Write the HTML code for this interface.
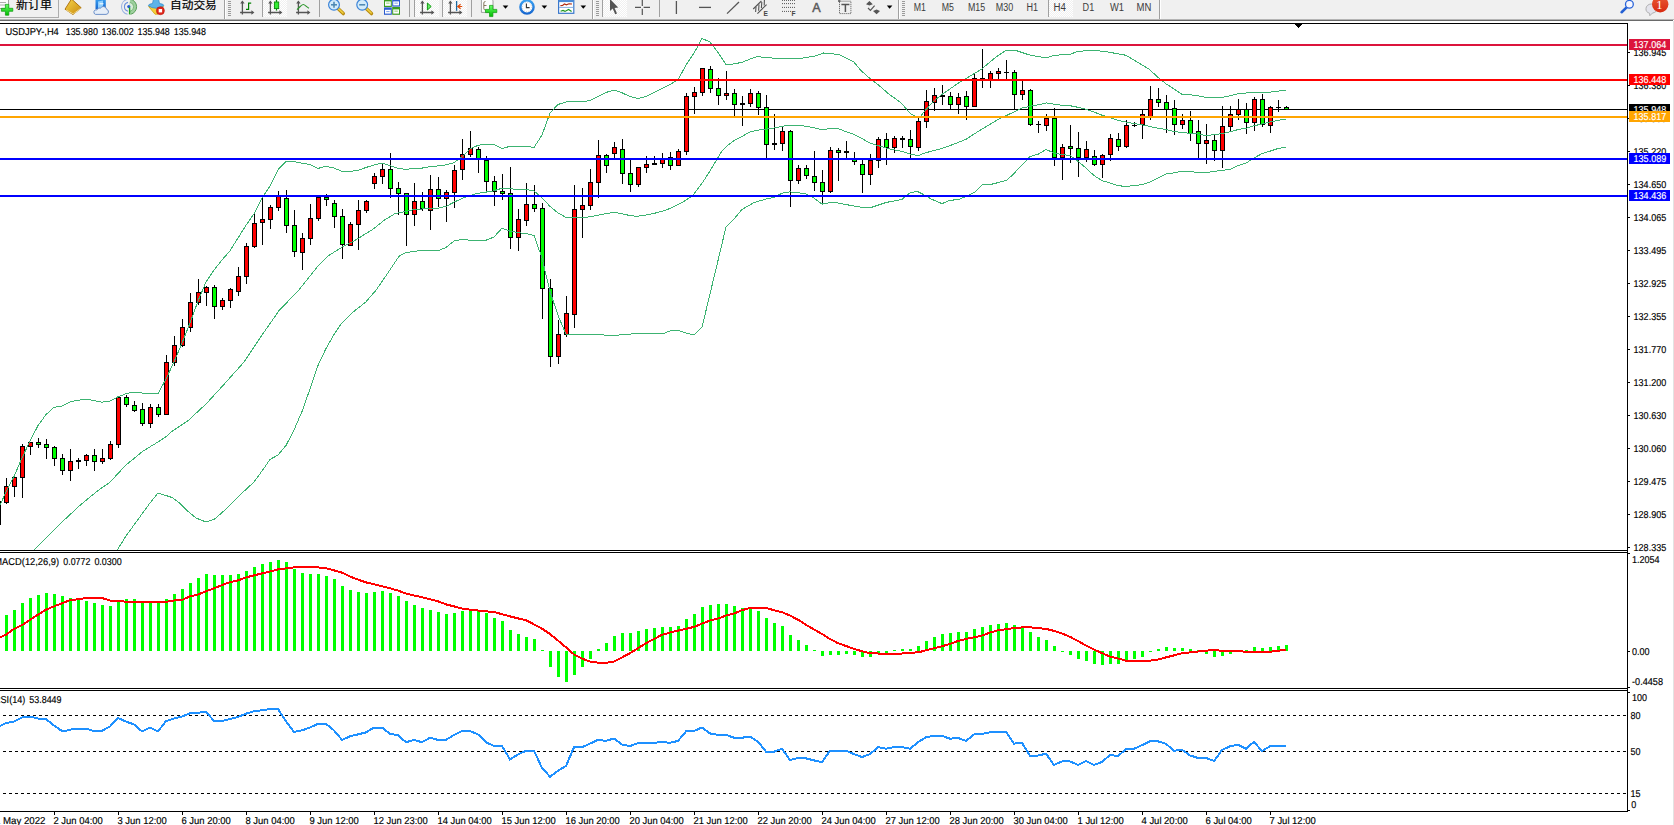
<!DOCTYPE html>
<html><head><meta charset="utf-8"><title>USDJPY-,H4</title>
<style>
html,body{margin:0;padding:0;background:#fff;}
body{width:1674px;height:825px;overflow:hidden;position:relative;font-family:"Liberation Sans", sans-serif;}
svg{display:block}
</style></head><body>
<svg id="toolbar" width="1674" height="23" viewBox="0 0 1674 23" style="position:absolute;left:0;top:0" font-family='"Liberation Sans","Noto Sans CJK SC",sans-serif'>
<defs>
<pattern id="chk" width="2" height="2" patternUnits="userSpaceOnUse"><rect width="2" height="2" fill="#f0f0f0"/><rect width="1" height="1" fill="#fff"/><rect x="1" y="1" width="1" height="1" fill="#fff"/></pattern>
<linearGradient id="gplus" x1="0" y1="0" x2="0" y2="1"><stop offset="0" stop-color="#6f6"/><stop offset="1" stop-color="#0b0"/></linearGradient>
<linearGradient id="gold" x1="0" y1="0" x2="1" y2="1"><stop offset="0" stop-color="#f7d64a"/><stop offset="1" stop-color="#c98a10"/></linearGradient>
<linearGradient id="blu" x1="0" y1="0" x2="0" y2="1"><stop offset="0" stop-color="#3aa0f0"/><stop offset="1" stop-color="#1868d0"/></linearGradient>
<linearGradient id="redg" x1="0" y1="0" x2="0" y2="1"><stop offset="0" stop-color="#ea5a34"/><stop offset="1" stop-color="#d82a10"/></linearGradient>
</defs>
<rect x="0" y="0" width="1674" height="19" fill="#f0f0f0"/>
<rect x="0" y="19" width="1674" height="1" fill="#b4b4b4"/>
<rect x="0" y="20" width="1673" height="1" fill="#6a6a6a"/>
<rect x="0" y="21" width="1674" height="2" fill="#fff"/>
<rect x="-2.5" y="-5.5" width="61" height="23" fill="#f0f0f0" stroke="#adadad"/>
<path d="M-3 -4H6L8.5 -1.5V8.5H-3Z" fill="#fdfdfd" stroke="#8a8a8a" stroke-width="0.8"/>
<path d="M-1 2.5H6M-1 5H6" stroke="#9a9a9a" stroke-width="0.8"/>
<path d="M5.4 4.4H8.8V8.3H12.8V11.3H8.8V15.2H5.4V11.3H1.4V8.3H5.4Z" fill="url(#gplus)" stroke="#0a9a0a" stroke-width="0.7"/>
<text x="16" y="8.9" font-size="12" fill="#000" stroke="#000" stroke-width="0.2">新订单</text>
<path d="M71.5 -1L81.2 7.8L73 14.6L65 9.2Z" fill="url(#gold)" stroke="#a86c08" stroke-width="0.9"/>
<path d="M66 9.8L73.2 14L80.6 8.4" stroke="#f7e39a" stroke-width="0.9" fill="none"/>
<path d="M95.5 -1H105.8V9H95.5Z" fill="url(#blu)"/>
<path d="M98 1.5L103 0.5V8H98Z" fill="#8fd0ff"/><path d="M99.5 3.8H103.5" stroke="#fff" stroke-width="1"/>
<path d="M95.5 14.4h10.5a2.6 2.6 0 0 0 .6-5.1a3.3 3.3 0 0 0-6.2-1a2.4 2.4 0 0 0-3.4 1.6a2.3 2.3 0 0 0-1.5 4.5z" fill="#e6eef8" stroke="#5f86c4" stroke-width="0.9"/>
<path d="M129 6.8L130.2 -0.8A7.7 7.7 0 0 1 130.6 14.3Z" fill="#9fd09f"/><path d="M129 6.8L130 2.4A4.5 4.5 0 0 1 130.2 11.2Z" fill="#d8ecd8"/>
<g fill="none"><path d="M130.2 -0.8A7.7 7.7 0 0 1 130.6 14.3" stroke="#5aa05a" stroke-width="1"/><path d="M127.6 14.3A7.7 7.7 0 0 1 127.8 -0.8" stroke="#9ab4e4" stroke-width="1.1"/><path d="M128 11.2A4.5 4.5 0 0 1 128 2.4" stroke="#6a90dc" stroke-width="1.1"/><path d="M130 2.4A4.5 4.5 0 0 1 130.2 11.2" stroke="#7ab87a" stroke-width="1"/></g>
<circle cx="128.8" cy="6.6" r="1.6" fill="#2a5fd0"/><path d="M129.6 7.4V14.4" stroke="#1ea01e" stroke-width="1.4" fill="none"/>
<path d="M148.6 6.5L163.4 6.5L157.8 14.2L155 14.2Z" fill="#f4d03a" stroke="#d0a010" stroke-width="0.8"/>
<path d="M153.5 -1Q156 -2 158.5 -1L159.5 3.5Q164 4 163.8 5.6Q160 8.4 156 8.2Q151 8.2 148.3 5.6Q148.6 4 152.5 3.5Z" fill="#5db4e8" stroke="#2e86c8" stroke-width="0.7"/>
<circle cx="160.4" cy="10.7" r="4" fill="#e0281c" stroke="#b8140c" stroke-width="0.6"/><rect x="158.7" y="9" width="3.4" height="3.4" fill="#fff"/>
<text x="170" y="9.2" font-size="11.7" fill="#000" stroke="#000" stroke-width="0.2">自动交易</text>
<rect x="224" y="0" width="1" height="19" fill="#a0a0a0"/><rect x="225" y="0" width="1" height="19" fill="#fff"/>
<rect x="228" y="1" width="3" height="1" fill="#9a9a9a"/>
<rect x="228" y="3" width="3" height="1" fill="#9a9a9a"/>
<rect x="228" y="5" width="3" height="1" fill="#9a9a9a"/>
<rect x="228" y="7" width="3" height="1" fill="#9a9a9a"/>
<rect x="228" y="9" width="3" height="1" fill="#9a9a9a"/>
<rect x="228" y="11" width="3" height="1" fill="#9a9a9a"/>
<rect x="228" y="13" width="3" height="1" fill="#9a9a9a"/>
<rect x="228" y="15" width="3" height="1" fill="#9a9a9a"/>
<path d="M242.4 1.5V14.5M240.1 12.5H252.4" stroke="#555" stroke-width="1.3" fill="none"/>
<path d="M240.20000000000002 3.6L242.4 0.6L244.6 3.6Z M251.4 10.3L254.4 12.5L251.4 14.7Z" fill="#555"/>
<path d="M248.6 2.6V10M248.6 3.2H251.2M246 9.4H248.6" stroke="#008000" stroke-width="1.2" fill="none"/>
<rect x="262" y="0" width="1" height="17" fill="#a0a0a0"/>
<rect x="263" y="0" width="24" height="17" fill="url(#chk)"/><rect x="262" y="0" width="1" height="17" fill="#a0a0a0"/>
<path d="M270.4 1.5V14.5M268.09999999999997 12.5H280.4" stroke="#555" stroke-width="1.3" fill="none"/>
<path d="M268.2 3.6L270.4 0.6L272.59999999999997 3.6Z M279.4 10.3L282.4 12.5L279.4 14.7Z" fill="#555"/>
<path d="M276.5 0V10.6" stroke="#0a8a0a" stroke-width="1.2"/><rect x="274.4" y="2" width="4.3" height="6.6" fill="#3e3" stroke="#0a8a0a" stroke-width="0.9"/>
<path d="M298.4 1.5V14.5M296.09999999999997 12.5H308.4" stroke="#555" stroke-width="1.3" fill="none"/>
<path d="M296.2 3.6L298.4 0.6L300.59999999999997 3.6Z M307.4 10.3L310.4 12.5L307.4 14.7Z" fill="#555"/>
<path d="M297 9.6C300 7 301.5 4.5 303.2 4.5C305 4.5 306.5 7.2 309 8.2" stroke="#2c962c" stroke-width="1.2" fill="none"/>
<rect x="319" y="0" width="1" height="17" fill="#a0a0a0"/>
<path d="M338 8.6L343.3 13.6" stroke="#b88a10" stroke-width="3.4" stroke-linecap="round"/><path d="M338.4 8.6L343 13" stroke="#f0d040" stroke-width="1.6" stroke-linecap="round"/>
<circle cx="334" cy="4.8" r="5.4" fill="#d4ecfa" stroke="#3c84d8" stroke-width="1.2"/>
<path d="M331 4.8H337" stroke="#4a86b0" stroke-width="1.5"/>
<path d="M334 1.8V7.8" stroke="#4a86b0" stroke-width="1.5"/>
<path d="M366.2 8.6L371.5 13.6" stroke="#b88a10" stroke-width="3.4" stroke-linecap="round"/><path d="M366.59999999999997 8.6L371.2 13" stroke="#f0d040" stroke-width="1.6" stroke-linecap="round"/>
<circle cx="362.2" cy="4.8" r="5.4" fill="#d4ecfa" stroke="#3c84d8" stroke-width="1.2"/>
<path d="M359.2 4.8H365.2" stroke="#4a86b0" stroke-width="1.5"/>
<rect x="384" y="-1" width="7.8" height="8" fill="#3c9c20"/>
<rect x="385" y="1.4" width="5.8" height="4.4" fill="#fff"/><rect x="386.2" y="2.6" width="3.3999999999999995" height="1.1" fill="#9ad27c"/>
<rect x="392.2" y="-1" width="7.8" height="7.6" fill="#2c5cd0"/>
<rect x="393.2" y="1.4" width="5.8" height="3.9999999999999996" fill="#fff"/><rect x="394.4" y="2.6" width="3.3999999999999995" height="1.1" fill="#8aa8ec"/>
<rect x="384" y="7.4" width="7.8" height="7.4" fill="#2c5cd0"/>
<rect x="385" y="9.8" width="5.8" height="3.8000000000000003" fill="#fff"/><rect x="386.2" y="11.0" width="3.3999999999999995" height="1.1" fill="#8aa8ec"/>
<rect x="392.2" y="7" width="7.8" height="7.8" fill="#3c9c20"/>
<rect x="393.2" y="9.4" width="5.8" height="4.199999999999999" fill="#fff"/><rect x="394.4" y="10.6" width="3.3999999999999995" height="1.1" fill="#9ad27c"/>
<rect x="409" y="0" width="1" height="17" fill="#a0a0a0"/>
<rect x="415" y="0" width="24" height="17" fill="url(#chk)"/><rect x="414" y="0" width="1" height="17" fill="#a0a0a0"/>
<path d="M422.4 1.5V14.5M420.09999999999997 12.5H432.4" stroke="#555" stroke-width="1.3" fill="none"/>
<path d="M420.2 3.6L422.4 0.6L424.59999999999997 3.6Z M431.4 10.3L434.4 12.5L431.4 14.7Z" fill="#555"/>
<path d="M427.4 3L431.2 6.5L427.4 10Z" fill="#6e6" stroke="#109a10" stroke-width="1"/>
<rect x="443" y="0" width="24" height="17" fill="url(#chk)"/><rect x="442" y="0" width="1" height="17" fill="#a0a0a0"/>
<path d="M450.4 1.5V14.5M448.09999999999997 12.5H460.4" stroke="#555" stroke-width="1.3" fill="none"/>
<path d="M448.2 3.6L450.4 0.6L452.59999999999997 3.6Z M459.4 10.3L462.4 12.5L459.4 14.7Z" fill="#555"/>
<path d="M456.6 1V10.8" stroke="#1c6aa0" stroke-width="1.3"/><path d="M457.6 6.5H462.2M460.6 4.3L457.8 6.5L460.6 8.7" stroke="#e04a08" stroke-width="1.2" fill="none"/>
<rect x="471" y="0" width="1" height="17" fill="#a0a0a0"/>
<path d="M481.4 -2H490.6L493 0.4V12.4H481.4Z" fill="#fcfcfc" stroke="#8a8a8a" stroke-width="0.8"/>
<path d="M485.5 1.5Q483.8 1.5 483.8 3V8.5Q483.8 10 485.5 10M484 5.5H486.5" stroke="#6a5a3a" stroke-width="0.8" fill="none"/>
<path d="M489.5 5.4H492.9V9.4H496.8V12.6H492.9V16.6H489.5V12.6H485.5V9.4H489.5Z" fill="url(#gplus)" stroke="#0a9a0a" stroke-width="0.7"/>
<polygon points="502.7,5.6 508.3,5.6 505.5,8.8" fill="#000"/>
<circle cx="527" cy="7" r="6.6" fill="#fdfdfd" stroke="url(#blu)" stroke-width="2.4"/><path d="M526.4 3.6V7.6H529.6" stroke="#333" stroke-width="1.1" fill="none"/>
<circle cx="527" cy="7" r="4.6" fill="none" stroke="#b0b0b0" stroke-width="0.7" stroke-dasharray="0.8 1.6"/>
<polygon points="541.6,5.6 547.1999999999999,5.6 544.4,8.8" fill="#000"/>
<rect x="558.6" y="-0.5" width="15.2" height="13.8" fill="#fff" stroke="#3a78cc" stroke-width="1.2"/><rect x="558.6" y="-0.5" width="15.2" height="2.6" fill="#4a8ad8"/><path d="M559 7.4H573.4" stroke="#7aa6e0" stroke-width="0.9"/>
<path d="M560.4 5.6L562.6 5.4L564.4 4L566.4 4.8L569 3.8L572 4" stroke="#b02a10" stroke-width="1.2" fill="none"/><path d="M560.6 11.2L563 10.4L565 11.4L568.6 9.4L571.6 11.4" stroke="#1e961e" stroke-width="1.2" fill="none"/>
<polygon points="580.5,5.6 586.0999999999999,5.6 583.3,8.8" fill="#000"/>
<rect x="592" y="0" width="1" height="19" fill="#a0a0a0"/><rect x="593" y="0" width="1" height="19" fill="#fff"/>
<rect x="596" y="1" width="3" height="1" fill="#9a9a9a"/>
<rect x="596" y="3" width="3" height="1" fill="#9a9a9a"/>
<rect x="596" y="5" width="3" height="1" fill="#9a9a9a"/>
<rect x="596" y="7" width="3" height="1" fill="#9a9a9a"/>
<rect x="596" y="9" width="3" height="1" fill="#9a9a9a"/>
<rect x="596" y="11" width="3" height="1" fill="#9a9a9a"/>
<rect x="596" y="13" width="3" height="1" fill="#9a9a9a"/>
<rect x="596" y="15" width="3" height="1" fill="#9a9a9a"/>
<rect x="603" y="0" width="24" height="17" fill="url(#chk)"/><rect x="602" y="0" width="1" height="17" fill="#a0a0a0"/>
<path d="M610 -1V11L612.7 8.6L615.2 14.2L617 13.4L614.6 7.9L618.2 7.6Z" fill="#555"/>
<path d="M635 7.4H641M643.6 7.4H650M642.3 0V6M642.3 8.8V15" stroke="#555" stroke-width="1.2" fill="none"/>
<rect x="659" y="0" width="1" height="17" fill="#a0a0a0"/>
<path d="M676.4 1V14" stroke="#555" stroke-width="1.3"/>
<path d="M699 7.4H711" stroke="#555" stroke-width="1.3"/>
<path d="M727 13.6L739 2" stroke="#555" stroke-width="1.3"/>
<path d="M753.2 9L761.4 1M757.4 13.6L766.6 4.6" stroke="#555" stroke-width="1.1" fill="none"/>
<path d="M756 7L755.6 12M759 4.4L758.6 10.8M761.8 2L761.4 8M764.4 0L764.2 5.6" stroke="#555" stroke-width="1.1" fill="none"/>
<text x="763.6" y="15.6" font-size="6.6" font-weight="bold" fill="#444">E</text>
<path d="M782 0.4H795" stroke="#555" stroke-width="1" stroke-dasharray="1 1"/>
<path d="M782 3.6H795" stroke="#555" stroke-width="1" stroke-dasharray="1 1"/>
<path d="M782 7.4H795" stroke="#555" stroke-width="1" stroke-dasharray="1 1"/>
<path d="M782 11.4H791" stroke="#555" stroke-width="1" stroke-dasharray="1 1"/>
<text x="791.6" y="15.6" font-size="6.6" font-weight="bold" fill="#444">F</text>
<text x="812.2" y="12" font-size="12.6" fill="#5a5a5a" stroke="#5a5a5a" stroke-width="0.5">A</text>
<rect x="839.5" y="1.2" width="11.4" height="12.4" fill="none" stroke="#555" stroke-width="1" stroke-dasharray="1 1"/><path d="M841.4 4.6H849.4M845.4 4.6V12" stroke="#555" stroke-width="1.5" fill="none"/><path d="M838 1H840.4" stroke="#444" stroke-width="1.4"/>
<path d="M866 4.2L869.4 1L872.8 4.2L869.4 5.6Z M873 11L876.6 14.2L880 11L876.6 9.6Z" fill="#555"/><path d="M868 8L870.4 10.4L874.6 5.6" stroke="#555" stroke-width="1.2" fill="none"/>
<polygon points="886.8000000000001,5.6 892.4,5.6 889.6,8.8" fill="#000"/>
<rect x="898" y="0" width="1" height="19" fill="#a0a0a0"/><rect x="899" y="0" width="1" height="19" fill="#fff"/>
<rect x="902" y="1" width="3" height="1" fill="#9a9a9a"/>
<rect x="902" y="3" width="3" height="1" fill="#9a9a9a"/>
<rect x="902" y="5" width="3" height="1" fill="#9a9a9a"/>
<rect x="902" y="7" width="3" height="1" fill="#9a9a9a"/>
<rect x="902" y="9" width="3" height="1" fill="#9a9a9a"/>
<rect x="902" y="11" width="3" height="1" fill="#9a9a9a"/>
<rect x="902" y="13" width="3" height="1" fill="#9a9a9a"/>
<rect x="902" y="15" width="3" height="1" fill="#9a9a9a"/>
<text x="913.8" y="10.9" font-size="10" fill="#3c3c3c" textLength="12.2" lengthAdjust="spacingAndGlyphs">M1</text>
<text x="941.8" y="10.9" font-size="10" fill="#3c3c3c" textLength="12.2" lengthAdjust="spacingAndGlyphs">M5</text>
<text x="967.9" y="10.9" font-size="10" fill="#3c3c3c" textLength="17.2" lengthAdjust="spacingAndGlyphs">M15</text>
<text x="995.8" y="10.9" font-size="10" fill="#3c3c3c" textLength="17.4" lengthAdjust="spacingAndGlyphs">M30</text>
<text x="1026.5" y="10.9" font-size="10" fill="#3c3c3c" textLength="11.6" lengthAdjust="spacingAndGlyphs">H1</text>
<rect x="1049" y="0" width="24" height="17" fill="url(#chk)"/><rect x="1048" y="0" width="1" height="17" fill="#a0a0a0"/>
<text x="1053.6" y="10.9" font-size="10" fill="#3c3c3c" textLength="12.4" lengthAdjust="spacingAndGlyphs">H4</text>
<text x="1082.6" y="10.9" font-size="10" fill="#3c3c3c" textLength="11.6" lengthAdjust="spacingAndGlyphs">D1</text>
<text x="1110" y="10.9" font-size="10" fill="#3c3c3c" textLength="14" lengthAdjust="spacingAndGlyphs">W1</text>
<text x="1136.6" y="10.9" font-size="10" fill="#3c3c3c" textLength="14.8" lengthAdjust="spacingAndGlyphs">MN</text>
<rect x="1159" y="0" width="1" height="19" fill="#a0a0a0"/><rect x="1160" y="0" width="1" height="19" fill="#fff"/>
<path d="M1626.6 7.4L1621.6 12.2" stroke="#2460d4" stroke-width="2.6" stroke-linecap="round"/><circle cx="1629.4" cy="4.3" r="3.9" fill="#f6f6ff" stroke="#2a64d8" stroke-width="1.3"/>
<path d="M1646 8.6a5.6 4.6 0 1 1 6.4 4.5l-2.6 2.6l-.2-2.4a5.6 4.6 0 0 1-3.6-4.7z" fill="#e4e4ec" stroke="#a8a8a8" stroke-width="0.9"/>
<circle cx="1660.2" cy="4.3" r="8.2" fill="url(#redg)"/>
<text x="1656.2" y="9.2" font-size="12.5" fill="#fff" font-family='"Liberation Serif",serif'>1</text>
</svg>
<svg id="chart" width="1674" height="825" viewBox="0 0 1674 825" shape-rendering="crispEdges" text-rendering="geometricPrecision" font-family='"Liberation Sans", sans-serif' style="position:absolute;left:0;top:0">
<rect x="0" y="23" width="1628" height="1" fill="#000"/>
<rect x="1627" y="23" width="1" height="789" fill="#000"/>
<rect x="0" y="550" width="1628" height="1" fill="#000"/>
<rect x="0" y="552" width="1628" height="1" fill="#000"/>
<rect x="0" y="688" width="1628" height="1" fill="#000"/>
<rect x="0" y="690" width="1628" height="1" fill="#000"/>
<rect x="0" y="811" width="1628" height="1" fill="#000"/>
<rect x="1673" y="21" width="1" height="804" fill="#e3e3e3"/>
<polygon points="1293.5,23 1303.5,23 1298.5,28.5" fill="#000"/>
<clipPath id="cm"><rect x="0" y="24" width="1627" height="526"/></clipPath>
<g clip-path="url(#cm)">
<rect x="0" y="109" width="1627" height="1" fill="#000"/>
<rect x="-2" y="497" width="1" height="28" fill="#000"/>
<rect x="-4" y="501" width="5" height="24" fill="#000"/>
<rect x="-3" y="502" width="3" height="22" fill="#f00"/>
<rect x="6" y="478" width="1" height="26" fill="#000"/>
<rect x="4" y="486" width="5" height="17" fill="#000"/>
<rect x="5" y="487" width="3" height="15" fill="#f00"/>
<rect x="14" y="474" width="1" height="23" fill="#000"/>
<rect x="12" y="477" width="5" height="10" fill="#000"/>
<rect x="13" y="478" width="3" height="8" fill="#f00"/>
<rect x="22" y="444" width="1" height="54" fill="#000"/>
<rect x="20" y="446" width="5" height="32" fill="#000"/>
<rect x="21" y="447" width="3" height="30" fill="#f00"/>
<rect x="30" y="442" width="1" height="13" fill="#000"/>
<rect x="28" y="442" width="5" height="5" fill="#000"/>
<rect x="29" y="443" width="3" height="3" fill="#f00"/>
<rect x="38" y="438" width="1" height="10" fill="#000"/>
<rect x="36" y="442" width="5" height="3" fill="#000"/>
<rect x="37" y="443" width="3" height="1" fill="#0f0"/>
<rect x="46" y="439" width="1" height="20" fill="#000"/>
<rect x="44" y="444" width="5" height="4" fill="#000"/>
<rect x="45" y="445" width="3" height="2" fill="#0f0"/>
<rect x="54" y="446" width="1" height="20" fill="#000"/>
<rect x="52" y="447" width="5" height="12" fill="#000"/>
<rect x="53" y="448" width="3" height="10" fill="#0f0"/>
<rect x="62" y="454" width="1" height="21" fill="#000"/>
<rect x="60" y="458" width="5" height="13" fill="#000"/>
<rect x="61" y="459" width="3" height="11" fill="#0f0"/>
<rect x="70" y="449" width="1" height="32" fill="#000"/>
<rect x="68" y="461" width="5" height="10" fill="#000"/>
<rect x="69" y="462" width="3" height="8" fill="#f00"/>
<rect x="78" y="458" width="1" height="11" fill="#000"/>
<rect x="76" y="460" width="5" height="2" fill="#000"/>
<rect x="86" y="454" width="1" height="12" fill="#000"/>
<rect x="84" y="455" width="5" height="6" fill="#000"/>
<rect x="85" y="456" width="3" height="4" fill="#f00"/>
<rect x="94" y="449" width="1" height="22" fill="#000"/>
<rect x="92" y="455" width="5" height="7" fill="#000"/>
<rect x="93" y="456" width="3" height="5" fill="#0f0"/>
<rect x="102" y="449" width="1" height="15" fill="#000"/>
<rect x="100" y="458" width="5" height="4" fill="#000"/>
<rect x="101" y="459" width="3" height="2" fill="#f00"/>
<rect x="110" y="441" width="1" height="19" fill="#000"/>
<rect x="108" y="444" width="5" height="15" fill="#000"/>
<rect x="109" y="445" width="3" height="13" fill="#f00"/>
<rect x="118" y="396" width="1" height="52" fill="#000"/>
<rect x="116" y="397" width="5" height="48" fill="#000"/>
<rect x="117" y="398" width="3" height="46" fill="#f00"/>
<rect x="126" y="395" width="1" height="12" fill="#000"/>
<rect x="124" y="397" width="5" height="8" fill="#000"/>
<rect x="125" y="398" width="3" height="6" fill="#0f0"/>
<rect x="134" y="401" width="1" height="11" fill="#000"/>
<rect x="132" y="405" width="5" height="6" fill="#000"/>
<rect x="133" y="406" width="3" height="4" fill="#0f0"/>
<rect x="142" y="403" width="1" height="23" fill="#000"/>
<rect x="140" y="409" width="5" height="15" fill="#000"/>
<rect x="141" y="410" width="3" height="13" fill="#0f0"/>
<rect x="150" y="404" width="1" height="24" fill="#000"/>
<rect x="148" y="407" width="5" height="17" fill="#000"/>
<rect x="149" y="408" width="3" height="15" fill="#f00"/>
<rect x="158" y="404" width="1" height="13" fill="#000"/>
<rect x="156" y="407" width="5" height="8" fill="#000"/>
<rect x="157" y="408" width="3" height="6" fill="#0f0"/>
<rect x="166" y="355" width="1" height="60" fill="#000"/>
<rect x="164" y="362" width="5" height="53" fill="#000"/>
<rect x="165" y="363" width="3" height="51" fill="#f00"/>
<rect x="174" y="336" width="1" height="30" fill="#000"/>
<rect x="172" y="345" width="5" height="18" fill="#000"/>
<rect x="173" y="346" width="3" height="16" fill="#f00"/>
<rect x="182" y="319" width="1" height="28" fill="#000"/>
<rect x="180" y="327" width="5" height="19" fill="#000"/>
<rect x="181" y="328" width="3" height="17" fill="#f00"/>
<rect x="190" y="293" width="1" height="39" fill="#000"/>
<rect x="188" y="302" width="5" height="26" fill="#000"/>
<rect x="189" y="303" width="3" height="24" fill="#f00"/>
<rect x="198" y="279" width="1" height="26" fill="#000"/>
<rect x="196" y="292" width="5" height="11" fill="#000"/>
<rect x="197" y="293" width="3" height="9" fill="#f00"/>
<rect x="206" y="286" width="1" height="20" fill="#000"/>
<rect x="204" y="287" width="5" height="6" fill="#000"/>
<rect x="205" y="288" width="3" height="4" fill="#f00"/>
<rect x="214" y="285" width="1" height="34" fill="#000"/>
<rect x="212" y="287" width="5" height="20" fill="#000"/>
<rect x="213" y="288" width="3" height="18" fill="#0f0"/>
<rect x="222" y="298" width="1" height="12" fill="#000"/>
<rect x="220" y="300" width="5" height="7" fill="#000"/>
<rect x="221" y="301" width="3" height="5" fill="#f00"/>
<rect x="230" y="288" width="1" height="20" fill="#000"/>
<rect x="228" y="289" width="5" height="12" fill="#000"/>
<rect x="229" y="290" width="3" height="10" fill="#f00"/>
<rect x="238" y="267" width="1" height="29" fill="#000"/>
<rect x="236" y="276" width="5" height="16" fill="#000"/>
<rect x="237" y="277" width="3" height="14" fill="#f00"/>
<rect x="246" y="243" width="1" height="41" fill="#000"/>
<rect x="244" y="246" width="5" height="31" fill="#000"/>
<rect x="245" y="247" width="3" height="29" fill="#f00"/>
<rect x="254" y="214" width="1" height="34" fill="#000"/>
<rect x="252" y="223" width="5" height="24" fill="#000"/>
<rect x="253" y="224" width="3" height="22" fill="#f00"/>
<rect x="262" y="198" width="1" height="47" fill="#000"/>
<rect x="260" y="219" width="5" height="4" fill="#000"/>
<rect x="261" y="220" width="3" height="2" fill="#f00"/>
<rect x="270" y="205" width="1" height="24" fill="#000"/>
<rect x="268" y="207" width="5" height="13" fill="#000"/>
<rect x="269" y="208" width="3" height="11" fill="#f00"/>
<rect x="278" y="191" width="1" height="20" fill="#000"/>
<rect x="276" y="196" width="5" height="12" fill="#000"/>
<rect x="277" y="197" width="3" height="10" fill="#f00"/>
<rect x="286" y="190" width="1" height="43" fill="#000"/>
<rect x="284" y="198" width="5" height="28" fill="#000"/>
<rect x="285" y="199" width="3" height="26" fill="#0f0"/>
<rect x="294" y="210" width="1" height="47" fill="#000"/>
<rect x="292" y="225" width="5" height="27" fill="#000"/>
<rect x="293" y="226" width="3" height="25" fill="#0f0"/>
<rect x="302" y="233" width="1" height="37" fill="#000"/>
<rect x="300" y="238" width="5" height="15" fill="#000"/>
<rect x="301" y="239" width="3" height="13" fill="#f00"/>
<rect x="310" y="204" width="1" height="41" fill="#000"/>
<rect x="308" y="218" width="5" height="21" fill="#000"/>
<rect x="309" y="219" width="3" height="19" fill="#f00"/>
<rect x="318" y="195" width="1" height="26" fill="#000"/>
<rect x="316" y="197" width="5" height="22" fill="#000"/>
<rect x="317" y="198" width="3" height="20" fill="#f00"/>
<rect x="326" y="194" width="1" height="12" fill="#000"/>
<rect x="324" y="197" width="5" height="3" fill="#000"/>
<rect x="325" y="198" width="3" height="1" fill="#0f0"/>
<rect x="334" y="200" width="1" height="28" fill="#000"/>
<rect x="332" y="203" width="5" height="14" fill="#000"/>
<rect x="333" y="204" width="3" height="12" fill="#0f0"/>
<rect x="342" y="209" width="1" height="50" fill="#000"/>
<rect x="340" y="216" width="5" height="29" fill="#000"/>
<rect x="341" y="217" width="3" height="27" fill="#0f0"/>
<rect x="350" y="222" width="1" height="24" fill="#000"/>
<rect x="348" y="224" width="5" height="22" fill="#000"/>
<rect x="349" y="225" width="3" height="20" fill="#f00"/>
<rect x="358" y="200" width="1" height="50" fill="#000"/>
<rect x="356" y="210" width="5" height="15" fill="#000"/>
<rect x="357" y="211" width="3" height="13" fill="#f00"/>
<rect x="366" y="200" width="1" height="13" fill="#000"/>
<rect x="364" y="201" width="5" height="10" fill="#000"/>
<rect x="365" y="202" width="3" height="8" fill="#f00"/>
<rect x="374" y="173" width="1" height="16" fill="#000"/>
<rect x="372" y="176" width="5" height="8" fill="#000"/>
<rect x="373" y="177" width="3" height="6" fill="#f00"/>
<rect x="382" y="164" width="1" height="20" fill="#000"/>
<rect x="380" y="169" width="5" height="8" fill="#000"/>
<rect x="381" y="170" width="3" height="6" fill="#f00"/>
<rect x="390" y="153" width="1" height="45" fill="#000"/>
<rect x="388" y="169" width="5" height="20" fill="#000"/>
<rect x="389" y="170" width="3" height="18" fill="#0f0"/>
<rect x="398" y="182" width="1" height="33" fill="#000"/>
<rect x="396" y="188" width="5" height="6" fill="#000"/>
<rect x="397" y="189" width="3" height="4" fill="#0f0"/>
<rect x="406" y="193" width="1" height="53" fill="#000"/>
<rect x="404" y="193" width="5" height="22" fill="#000"/>
<rect x="405" y="194" width="3" height="20" fill="#0f0"/>
<rect x="414" y="183" width="1" height="43" fill="#000"/>
<rect x="412" y="201" width="5" height="14" fill="#000"/>
<rect x="413" y="202" width="3" height="12" fill="#f00"/>
<rect x="422" y="192" width="1" height="19" fill="#000"/>
<rect x="420" y="201" width="5" height="8" fill="#000"/>
<rect x="421" y="202" width="3" height="6" fill="#0f0"/>
<rect x="430" y="175" width="1" height="55" fill="#000"/>
<rect x="428" y="189" width="5" height="22" fill="#000"/>
<rect x="429" y="190" width="3" height="20" fill="#f00"/>
<rect x="438" y="177" width="1" height="30" fill="#000"/>
<rect x="436" y="189" width="5" height="10" fill="#000"/>
<rect x="437" y="190" width="3" height="8" fill="#0f0"/>
<rect x="446" y="190" width="1" height="32" fill="#000"/>
<rect x="444" y="192" width="5" height="7" fill="#000"/>
<rect x="445" y="193" width="3" height="5" fill="#f00"/>
<rect x="454" y="165" width="1" height="43" fill="#000"/>
<rect x="452" y="170" width="5" height="23" fill="#000"/>
<rect x="453" y="171" width="3" height="21" fill="#f00"/>
<rect x="462" y="139" width="1" height="41" fill="#000"/>
<rect x="460" y="154" width="5" height="16" fill="#000"/>
<rect x="461" y="155" width="3" height="14" fill="#f00"/>
<rect x="470" y="131" width="1" height="26" fill="#000"/>
<rect x="468" y="148" width="5" height="7" fill="#000"/>
<rect x="469" y="149" width="3" height="5" fill="#f00"/>
<rect x="478" y="147" width="1" height="26" fill="#000"/>
<rect x="476" y="149" width="5" height="11" fill="#000"/>
<rect x="477" y="150" width="3" height="9" fill="#0f0"/>
<rect x="486" y="156" width="1" height="36" fill="#000"/>
<rect x="484" y="160" width="5" height="22" fill="#000"/>
<rect x="485" y="161" width="3" height="20" fill="#0f0"/>
<rect x="494" y="176" width="1" height="30" fill="#000"/>
<rect x="492" y="181" width="5" height="11" fill="#000"/>
<rect x="493" y="182" width="3" height="9" fill="#0f0"/>
<rect x="502" y="174" width="1" height="26" fill="#000"/>
<rect x="500" y="191" width="5" height="3" fill="#000"/>
<rect x="501" y="192" width="3" height="1" fill="#0f0"/>
<rect x="510" y="167" width="1" height="82" fill="#000"/>
<rect x="508" y="193" width="5" height="45" fill="#000"/>
<rect x="509" y="194" width="3" height="43" fill="#0f0"/>
<rect x="518" y="209" width="1" height="42" fill="#000"/>
<rect x="516" y="219" width="5" height="19" fill="#000"/>
<rect x="517" y="220" width="3" height="17" fill="#f00"/>
<rect x="526" y="183" width="1" height="43" fill="#000"/>
<rect x="524" y="204" width="5" height="17" fill="#000"/>
<rect x="525" y="205" width="3" height="15" fill="#f00"/>
<rect x="534" y="185" width="1" height="27" fill="#000"/>
<rect x="532" y="204" width="5" height="5" fill="#000"/>
<rect x="533" y="205" width="3" height="3" fill="#0f0"/>
<rect x="542" y="203" width="1" height="116" fill="#000"/>
<rect x="540" y="208" width="5" height="81" fill="#000"/>
<rect x="541" y="209" width="3" height="79" fill="#0f0"/>
<rect x="550" y="279" width="1" height="88" fill="#000"/>
<rect x="548" y="288" width="5" height="69" fill="#000"/>
<rect x="549" y="289" width="3" height="67" fill="#0f0"/>
<rect x="558" y="320" width="1" height="44" fill="#000"/>
<rect x="556" y="334" width="5" height="23" fill="#000"/>
<rect x="557" y="335" width="3" height="21" fill="#f00"/>
<rect x="566" y="296" width="1" height="41" fill="#000"/>
<rect x="564" y="313" width="5" height="22" fill="#000"/>
<rect x="565" y="314" width="3" height="20" fill="#f00"/>
<rect x="574" y="185" width="1" height="143" fill="#000"/>
<rect x="572" y="209" width="5" height="106" fill="#000"/>
<rect x="573" y="210" width="3" height="104" fill="#f00"/>
<rect x="582" y="188" width="1" height="50" fill="#000"/>
<rect x="580" y="205" width="5" height="5" fill="#000"/>
<rect x="581" y="206" width="3" height="3" fill="#f00"/>
<rect x="590" y="169" width="1" height="41" fill="#000"/>
<rect x="588" y="182" width="5" height="24" fill="#000"/>
<rect x="589" y="183" width="3" height="22" fill="#f00"/>
<rect x="598" y="140" width="1" height="58" fill="#000"/>
<rect x="596" y="155" width="5" height="28" fill="#000"/>
<rect x="597" y="156" width="3" height="26" fill="#f00"/>
<rect x="606" y="154" width="1" height="19" fill="#000"/>
<rect x="604" y="155" width="5" height="11" fill="#000"/>
<rect x="605" y="156" width="3" height="9" fill="#0f0"/>
<rect x="614" y="142" width="1" height="16" fill="#000"/>
<rect x="612" y="147" width="5" height="7" fill="#000"/>
<rect x="613" y="148" width="3" height="5" fill="#f00"/>
<rect x="622" y="139" width="1" height="45" fill="#000"/>
<rect x="620" y="149" width="5" height="25" fill="#000"/>
<rect x="621" y="150" width="3" height="23" fill="#0f0"/>
<rect x="630" y="158" width="1" height="34" fill="#000"/>
<rect x="628" y="173" width="5" height="12" fill="#000"/>
<rect x="629" y="174" width="3" height="10" fill="#0f0"/>
<rect x="638" y="167" width="1" height="20" fill="#000"/>
<rect x="636" y="167" width="5" height="18" fill="#000"/>
<rect x="637" y="168" width="3" height="16" fill="#f00"/>
<rect x="646" y="156" width="1" height="17" fill="#000"/>
<rect x="644" y="164" width="5" height="4" fill="#000"/>
<rect x="645" y="165" width="3" height="2" fill="#f00"/>
<rect x="654" y="156" width="1" height="9" fill="#000"/>
<rect x="652" y="163" width="5" height="2" fill="#000"/>
<rect x="662" y="153" width="1" height="15" fill="#000"/>
<rect x="660" y="159" width="5" height="5" fill="#000"/>
<rect x="661" y="160" width="3" height="3" fill="#f00"/>
<rect x="670" y="152" width="1" height="18" fill="#000"/>
<rect x="668" y="157" width="5" height="9" fill="#000"/>
<rect x="669" y="158" width="3" height="7" fill="#0f0"/>
<rect x="678" y="149" width="1" height="17" fill="#000"/>
<rect x="676" y="151" width="5" height="15" fill="#000"/>
<rect x="677" y="152" width="3" height="13" fill="#f00"/>
<rect x="686" y="93" width="1" height="62" fill="#000"/>
<rect x="684" y="96" width="5" height="56" fill="#000"/>
<rect x="685" y="97" width="3" height="54" fill="#f00"/>
<rect x="694" y="87" width="1" height="27" fill="#000"/>
<rect x="692" y="92" width="5" height="5" fill="#000"/>
<rect x="693" y="93" width="3" height="3" fill="#f00"/>
<rect x="702" y="68" width="1" height="28" fill="#000"/>
<rect x="700" y="68" width="5" height="25" fill="#000"/>
<rect x="701" y="69" width="3" height="23" fill="#f00"/>
<rect x="710" y="66" width="1" height="27" fill="#000"/>
<rect x="708" y="69" width="5" height="20" fill="#000"/>
<rect x="709" y="70" width="3" height="18" fill="#0f0"/>
<rect x="718" y="78" width="1" height="27" fill="#000"/>
<rect x="716" y="88" width="5" height="8" fill="#000"/>
<rect x="717" y="89" width="3" height="6" fill="#0f0"/>
<rect x="726" y="71" width="1" height="29" fill="#000"/>
<rect x="724" y="93" width="5" height="3" fill="#000"/>
<rect x="725" y="94" width="3" height="1" fill="#f00"/>
<rect x="734" y="89" width="1" height="27" fill="#000"/>
<rect x="732" y="93" width="5" height="12" fill="#000"/>
<rect x="733" y="94" width="3" height="10" fill="#0f0"/>
<rect x="742" y="96" width="1" height="30" fill="#000"/>
<rect x="740" y="103" width="5" height="2" fill="#000"/>
<rect x="750" y="89" width="1" height="18" fill="#000"/>
<rect x="748" y="93" width="5" height="11" fill="#000"/>
<rect x="749" y="94" width="3" height="9" fill="#f00"/>
<rect x="758" y="91" width="1" height="24" fill="#000"/>
<rect x="756" y="93" width="5" height="15" fill="#000"/>
<rect x="757" y="94" width="3" height="13" fill="#0f0"/>
<rect x="766" y="95" width="1" height="63" fill="#000"/>
<rect x="764" y="107" width="5" height="38" fill="#000"/>
<rect x="765" y="108" width="3" height="36" fill="#0f0"/>
<rect x="774" y="114" width="1" height="36" fill="#000"/>
<rect x="772" y="143" width="5" height="2" fill="#000"/>
<rect x="782" y="127" width="1" height="24" fill="#000"/>
<rect x="780" y="131" width="5" height="13" fill="#000"/>
<rect x="781" y="132" width="3" height="11" fill="#f00"/>
<rect x="790" y="130" width="1" height="77" fill="#000"/>
<rect x="788" y="131" width="5" height="50" fill="#000"/>
<rect x="789" y="132" width="3" height="48" fill="#0f0"/>
<rect x="798" y="165" width="1" height="19" fill="#000"/>
<rect x="796" y="168" width="5" height="13" fill="#000"/>
<rect x="797" y="169" width="3" height="11" fill="#f00"/>
<rect x="806" y="165" width="1" height="14" fill="#000"/>
<rect x="804" y="168" width="5" height="8" fill="#000"/>
<rect x="805" y="169" width="3" height="6" fill="#0f0"/>
<rect x="814" y="151" width="1" height="40" fill="#000"/>
<rect x="812" y="176" width="5" height="7" fill="#000"/>
<rect x="813" y="177" width="3" height="5" fill="#0f0"/>
<rect x="822" y="170" width="1" height="33" fill="#000"/>
<rect x="820" y="182" width="5" height="10" fill="#000"/>
<rect x="821" y="183" width="3" height="8" fill="#0f0"/>
<rect x="830" y="147" width="1" height="46" fill="#000"/>
<rect x="828" y="150" width="5" height="42" fill="#000"/>
<rect x="829" y="151" width="3" height="40" fill="#f00"/>
<rect x="838" y="148" width="1" height="33" fill="#000"/>
<rect x="836" y="150" width="5" height="3" fill="#000"/>
<rect x="837" y="151" width="3" height="1" fill="#0f0"/>
<rect x="846" y="141" width="1" height="17" fill="#000"/>
<rect x="844" y="151" width="5" height="2" fill="#000"/>
<rect x="854" y="152" width="1" height="13" fill="#000"/>
<rect x="852" y="159" width="5" height="3" fill="#000"/>
<rect x="853" y="160" width="3" height="1" fill="#0f0"/>
<rect x="862" y="160" width="1" height="33" fill="#000"/>
<rect x="860" y="164" width="5" height="11" fill="#000"/>
<rect x="861" y="165" width="3" height="9" fill="#0f0"/>
<rect x="870" y="154" width="1" height="31" fill="#000"/>
<rect x="868" y="160" width="5" height="15" fill="#000"/>
<rect x="869" y="161" width="3" height="13" fill="#f00"/>
<rect x="878" y="137" width="1" height="31" fill="#000"/>
<rect x="876" y="139" width="5" height="22" fill="#000"/>
<rect x="877" y="140" width="3" height="20" fill="#f00"/>
<rect x="886" y="133" width="1" height="32" fill="#000"/>
<rect x="884" y="139" width="5" height="9" fill="#000"/>
<rect x="885" y="140" width="3" height="7" fill="#0f0"/>
<rect x="894" y="136" width="1" height="17" fill="#000"/>
<rect x="892" y="138" width="5" height="10" fill="#000"/>
<rect x="893" y="139" width="3" height="8" fill="#f00"/>
<rect x="902" y="136" width="1" height="12" fill="#000"/>
<rect x="900" y="138" width="5" height="2" fill="#000"/>
<rect x="910" y="130" width="1" height="28" fill="#000"/>
<rect x="908" y="139" width="5" height="8" fill="#000"/>
<rect x="909" y="140" width="3" height="6" fill="#0f0"/>
<rect x="918" y="118" width="1" height="33" fill="#000"/>
<rect x="916" y="121" width="5" height="27" fill="#000"/>
<rect x="917" y="122" width="3" height="25" fill="#f00"/>
<rect x="926" y="90" width="1" height="38" fill="#000"/>
<rect x="924" y="101" width="5" height="21" fill="#000"/>
<rect x="925" y="102" width="3" height="19" fill="#f00"/>
<rect x="934" y="88" width="1" height="23" fill="#000"/>
<rect x="932" y="95" width="5" height="8" fill="#000"/>
<rect x="933" y="96" width="3" height="6" fill="#f00"/>
<rect x="942" y="85" width="1" height="20" fill="#000"/>
<rect x="940" y="95" width="5" height="2" fill="#000"/>
<rect x="950" y="92" width="1" height="17" fill="#000"/>
<rect x="948" y="96" width="5" height="9" fill="#000"/>
<rect x="949" y="97" width="3" height="7" fill="#0f0"/>
<rect x="958" y="93" width="1" height="21" fill="#000"/>
<rect x="956" y="97" width="5" height="8" fill="#000"/>
<rect x="957" y="98" width="3" height="6" fill="#f00"/>
<rect x="966" y="91" width="1" height="29" fill="#000"/>
<rect x="964" y="96" width="5" height="11" fill="#000"/>
<rect x="965" y="97" width="3" height="9" fill="#0f0"/>
<rect x="974" y="74" width="1" height="33" fill="#000"/>
<rect x="972" y="78" width="5" height="29" fill="#000"/>
<rect x="973" y="79" width="3" height="27" fill="#f00"/>
<rect x="982" y="49" width="1" height="39" fill="#000"/>
<rect x="980" y="78" width="5" height="1" fill="#000"/>
<rect x="990" y="71" width="1" height="17" fill="#000"/>
<rect x="988" y="73" width="5" height="7" fill="#000"/>
<rect x="989" y="74" width="3" height="5" fill="#f00"/>
<rect x="998" y="68" width="1" height="11" fill="#000"/>
<rect x="996" y="71" width="5" height="3" fill="#000"/>
<rect x="997" y="72" width="3" height="1" fill="#f00"/>
<rect x="1006" y="60" width="1" height="19" fill="#000"/>
<rect x="1004" y="72" width="5" height="1" fill="#000"/>
<rect x="1014" y="70" width="1" height="40" fill="#000"/>
<rect x="1012" y="72" width="5" height="23" fill="#000"/>
<rect x="1013" y="73" width="3" height="21" fill="#0f0"/>
<rect x="1022" y="80" width="1" height="20" fill="#000"/>
<rect x="1020" y="90" width="5" height="5" fill="#000"/>
<rect x="1021" y="91" width="3" height="3" fill="#f00"/>
<rect x="1030" y="89" width="1" height="37" fill="#000"/>
<rect x="1028" y="90" width="5" height="35" fill="#000"/>
<rect x="1029" y="91" width="3" height="33" fill="#0f0"/>
<rect x="1038" y="121" width="1" height="12" fill="#000"/>
<rect x="1036" y="124" width="5" height="1" fill="#000"/>
<rect x="1046" y="114" width="1" height="17" fill="#000"/>
<rect x="1044" y="118" width="5" height="8" fill="#000"/>
<rect x="1045" y="119" width="3" height="6" fill="#f00"/>
<rect x="1054" y="108" width="1" height="58" fill="#000"/>
<rect x="1052" y="118" width="5" height="40" fill="#000"/>
<rect x="1053" y="119" width="3" height="38" fill="#0f0"/>
<rect x="1062" y="144" width="1" height="36" fill="#000"/>
<rect x="1060" y="147" width="5" height="11" fill="#000"/>
<rect x="1061" y="148" width="3" height="9" fill="#f00"/>
<rect x="1070" y="125" width="1" height="38" fill="#000"/>
<rect x="1068" y="146" width="5" height="3" fill="#000"/>
<rect x="1069" y="147" width="3" height="1" fill="#0f0"/>
<rect x="1078" y="132" width="1" height="45" fill="#000"/>
<rect x="1076" y="148" width="5" height="10" fill="#000"/>
<rect x="1077" y="149" width="3" height="8" fill="#0f0"/>
<rect x="1086" y="141" width="1" height="21" fill="#000"/>
<rect x="1084" y="149" width="5" height="9" fill="#000"/>
<rect x="1085" y="150" width="3" height="7" fill="#f00"/>
<rect x="1094" y="150" width="1" height="16" fill="#000"/>
<rect x="1092" y="156" width="5" height="9" fill="#000"/>
<rect x="1093" y="157" width="3" height="7" fill="#0f0"/>
<rect x="1102" y="154" width="1" height="24" fill="#000"/>
<rect x="1100" y="155" width="5" height="10" fill="#000"/>
<rect x="1101" y="156" width="3" height="8" fill="#f00"/>
<rect x="1110" y="134" width="1" height="27" fill="#000"/>
<rect x="1108" y="138" width="5" height="17" fill="#000"/>
<rect x="1109" y="139" width="3" height="15" fill="#f00"/>
<rect x="1118" y="133" width="1" height="18" fill="#000"/>
<rect x="1116" y="139" width="5" height="8" fill="#000"/>
<rect x="1117" y="140" width="3" height="6" fill="#0f0"/>
<rect x="1126" y="120" width="1" height="28" fill="#000"/>
<rect x="1124" y="125" width="5" height="22" fill="#000"/>
<rect x="1125" y="126" width="3" height="20" fill="#f00"/>
<rect x="1134" y="122" width="1" height="5" fill="#000"/>
<rect x="1132" y="125" width="5" height="1" fill="#000"/>
<rect x="1142" y="110" width="1" height="29" fill="#000"/>
<rect x="1140" y="114" width="5" height="11" fill="#000"/>
<rect x="1141" y="115" width="3" height="9" fill="#f00"/>
<rect x="1150" y="86" width="1" height="34" fill="#000"/>
<rect x="1148" y="99" width="5" height="18" fill="#000"/>
<rect x="1149" y="100" width="3" height="16" fill="#f00"/>
<rect x="1158" y="88" width="1" height="19" fill="#000"/>
<rect x="1156" y="99" width="5" height="4" fill="#000"/>
<rect x="1157" y="100" width="3" height="2" fill="#0f0"/>
<rect x="1166" y="95" width="1" height="38" fill="#000"/>
<rect x="1164" y="102" width="5" height="8" fill="#000"/>
<rect x="1165" y="103" width="3" height="6" fill="#0f0"/>
<rect x="1174" y="100" width="1" height="35" fill="#000"/>
<rect x="1172" y="108" width="5" height="17" fill="#000"/>
<rect x="1173" y="109" width="3" height="15" fill="#0f0"/>
<rect x="1182" y="114" width="1" height="15" fill="#000"/>
<rect x="1180" y="120" width="5" height="5" fill="#000"/>
<rect x="1181" y="121" width="3" height="3" fill="#f00"/>
<rect x="1190" y="111" width="1" height="30" fill="#000"/>
<rect x="1188" y="120" width="5" height="14" fill="#000"/>
<rect x="1189" y="121" width="3" height="12" fill="#0f0"/>
<rect x="1198" y="120" width="1" height="38" fill="#000"/>
<rect x="1196" y="131" width="5" height="13" fill="#000"/>
<rect x="1197" y="132" width="3" height="11" fill="#0f0"/>
<rect x="1206" y="124" width="1" height="40" fill="#000"/>
<rect x="1204" y="140" width="5" height="4" fill="#000"/>
<rect x="1205" y="141" width="3" height="2" fill="#f00"/>
<rect x="1214" y="135" width="1" height="26" fill="#000"/>
<rect x="1212" y="140" width="5" height="11" fill="#000"/>
<rect x="1213" y="141" width="3" height="9" fill="#0f0"/>
<rect x="1222" y="106" width="1" height="62" fill="#000"/>
<rect x="1220" y="126" width="5" height="25" fill="#000"/>
<rect x="1221" y="127" width="3" height="23" fill="#f00"/>
<rect x="1230" y="106" width="1" height="26" fill="#000"/>
<rect x="1228" y="114" width="5" height="13" fill="#000"/>
<rect x="1229" y="115" width="3" height="11" fill="#f00"/>
<rect x="1238" y="99" width="1" height="21" fill="#000"/>
<rect x="1236" y="109" width="5" height="6" fill="#000"/>
<rect x="1237" y="110" width="3" height="4" fill="#f00"/>
<rect x="1246" y="103" width="1" height="31" fill="#000"/>
<rect x="1244" y="109" width="5" height="14" fill="#000"/>
<rect x="1245" y="110" width="3" height="12" fill="#0f0"/>
<rect x="1254" y="97" width="1" height="34" fill="#000"/>
<rect x="1252" y="99" width="5" height="24" fill="#000"/>
<rect x="1253" y="100" width="3" height="22" fill="#f00"/>
<rect x="1262" y="94" width="1" height="33" fill="#000"/>
<rect x="1260" y="99" width="5" height="26" fill="#000"/>
<rect x="1261" y="100" width="3" height="24" fill="#0f0"/>
<rect x="1270" y="106" width="1" height="27" fill="#000"/>
<rect x="1268" y="107" width="5" height="19" fill="#000"/>
<rect x="1269" y="108" width="3" height="17" fill="#f00"/>
<rect x="1278" y="100" width="1" height="12" fill="#000"/>
<rect x="1276" y="107" width="5" height="1" fill="#000"/>
<rect x="1286" y="106" width="1" height="4" fill="#000"/>
<rect x="1284" y="107" width="5" height="3" fill="#000"/>
<rect x="1285" y="108" width="3" height="1" fill="#0f0"/>
<polyline points="0.0,505.0 6.0,492.0 14.0,476.5 22.0,458.0 30.0,441.0 38.0,425.6 46.0,414.6 54.0,407.3 62.0,406.0 70.0,402.0 78.0,400.2 86.0,399.3 94.0,400.5 102.0,402.2 110.0,401.0 118.0,396.8 126.0,393.7 134.0,392.0 142.0,393.0 150.0,393.4 158.0,393.6 166.0,379.0 174.0,362.0 182.0,343.0 190.0,323.0 198.0,301.0 206.0,282.0 214.0,270.0 222.0,260.0 230.0,250.8 238.0,238.0 246.0,225.3 254.0,213.7 262.0,198.0 270.0,186.0 278.0,169.7 286.0,161.6 294.0,161.6 302.0,163.2 310.0,164.5 318.0,168.4 326.0,166.3 334.0,168.0 342.0,171.4 350.0,171.4 358.0,170.3 366.0,167.5 374.0,165.0 382.0,163.0 390.0,165.5 398.0,168.5 406.0,169.3 414.0,168.6 422.0,168.1 430.0,166.7 438.0,165.9 446.0,164.9 454.0,162.7 462.0,156.9 470.0,148.9 478.0,145.3 486.0,144.3 494.0,144.4 502.0,148.5 510.0,146.3 518.0,146.0 526.0,146.0 534.0,147.5 542.0,135.0 550.0,113.0 558.0,104.5 566.0,102.0 574.0,101.9 582.0,101.8 590.0,100.5 598.0,96.5 606.0,92.5 614.0,90.0 622.0,92.8 630.0,96.5 638.0,98.6 646.0,96.5 654.0,92.6 662.0,88.7 670.0,84.4 678.0,80.0 686.0,65.0 694.0,53.2 702.0,38.5 710.0,42.0 718.0,52.5 726.0,64.5 734.0,63.9 742.0,62.3 750.0,59.1 758.0,56.4 764.0,57.5 780.0,58.5 800.0,58.5 815.0,56.1 823.6,53.0 839.4,54.5 854.0,62.1 861.0,70.6 870.0,78.5 879.4,85.8 889.0,94.2 901.0,102.7 909.7,113.0 914.5,116.0 920.6,116.3 926.7,108.8 934.0,100.7 942.0,94.4 950.0,88.9 958.0,83.4 966.0,78.6 974.0,73.8 982.0,68.8 990.0,62.0 998.0,55.5 1006.0,50.5 1016.0,50.5 1029.0,54.8 1046.0,58.0 1054.6,55.2 1070.0,54.5 1077.0,51.5 1093.0,50.2 1108.0,52.0 1125.6,55.2 1138.5,62.7 1149.0,69.2 1158.0,77.3 1166.0,83.8 1174.0,88.9 1182.0,94.3 1190.0,94.7 1198.0,95.9 1206.0,97.3 1214.0,97.3 1222.0,97.3 1230.0,95.9 1238.0,93.7 1246.0,93.0 1254.0,92.3 1262.0,93.0 1270.0,92.1 1278.0,91.1 1286.0,90.4" fill="none" stroke="#3cb371" stroke-width="1"/>
<polyline points="34.0,550.0 54.0,530.0 62.0,522.0 70.0,514.7 78.0,507.0 86.0,500.3 94.0,493.8 102.0,487.6 110.0,482.3 118.0,473.5 126.0,465.0 134.0,458.5 142.0,451.8 150.0,446.8 158.0,442.0 166.0,436.7 172.0,431.3 188.0,420.7 206.7,403.3 225.0,383.3 244.0,362.0 260.0,338.0 279.0,310.6 298.0,291.0 318.0,266.0 329.0,255.3 343.0,246.6 356.0,239.8 366.0,233.5 372.0,230.0 384.0,220.4 395.0,213.6 406.0,211.5 414.0,209.6 422.0,209.0 430.0,208.9 438.0,208.3 446.0,206.4 454.0,202.2 462.0,198.4 470.0,195.5 478.0,193.3 486.0,192.1 494.0,190.8 502.0,188.2 510.0,188.9 518.0,189.2 526.0,189.4 534.0,191.0 542.0,197.8 550.0,206.4 558.0,213.0 566.0,217.4 574.0,218.0 582.0,217.4 590.0,216.9 598.0,215.1 606.0,213.7 614.0,212.3 622.0,213.7 630.0,215.6 637.0,216.3 646.0,215.0 657.0,212.7 666.0,210.0 672.5,207.4 682.7,202.3 692.8,195.4 703.0,181.9 713.0,166.1 720.8,152.6 727.0,145.8 734.0,140.7 742.0,136.4 750.0,132.0 758.0,130.1 766.0,129.2 774.0,128.1 782.0,126.2 790.0,125.4 798.0,125.4 806.0,126.2 814.0,127.8 822.0,129.7 830.0,128.6 838.0,128.6 846.0,131.7 854.0,134.4 862.0,138.6 870.0,143.1 878.0,145.5 886.0,148.1 894.0,149.8 902.0,151.5 910.0,154.0 918.0,155.6 926.0,152.7 934.0,150.5 942.0,148.5 950.0,145.6 958.0,142.5 966.0,139.3 974.0,134.1 982.0,129.1 990.0,124.3 998.0,119.6 1006.0,115.7 1014.0,111.9 1022.0,108.1 1030.0,106.2 1038.0,104.9 1046.0,102.9 1054.0,104.1 1062.0,105.4 1070.0,105.7 1078.0,107.3 1086.0,109.3 1094.0,112.0 1102.0,115.2 1110.0,117.5 1118.0,120.4 1126.0,122.0 1134.0,123.5 1142.0,124.8 1150.0,126.5 1158.0,128.2 1166.0,129.6 1174.0,131.4 1182.0,132.5 1190.0,133.3 1198.0,134.0 1206.0,135.5 1214.0,134.7 1222.0,133.6 1230.0,131.8 1238.0,129.6 1246.0,128.2 1254.0,125.7 1262.0,124.1 1270.0,122.1 1278.0,120.2 1286.0,119.2" fill="none" stroke="#3cb371" stroke-width="1"/>
<polyline points="117.3,550.0 126.0,536.0 134.0,525.0 142.0,514.0 150.0,503.0 158.0,493.0 166.0,495.5 172.0,497.5 180.0,503.3 188.0,511.3 196.0,518.0 206.0,522.0 214.0,519.5 225.0,510.0 241.0,494.0 254.0,482.0 262.0,471.0 270.0,459.5 278.0,455.0 286.0,445.5 294.0,430.0 302.0,411.5 310.0,389.0 318.0,365.5 326.0,348.5 334.0,334.5 341.0,324.2 352.5,312.5 366.0,301.8 376.0,290.2 387.4,273.7 399.0,256.3 405.0,252.8 418.5,250.8 440.0,250.0 446.0,247.5 454.0,241.0 462.0,239.5 470.0,240.2 478.0,240.3 486.0,240.2 494.0,237.0 502.0,228.2 510.0,231.2 518.0,232.6 526.0,233.6 534.0,235.5 542.0,258.0 550.0,291.5 558.0,315.3 566.0,334.3 594.0,334.3 613.0,335.7 626.0,334.3 640.0,333.5 663.0,333.9 669.0,331.2 677.0,330.0 686.0,333.1 694.0,335.1 702.0,327.3 710.0,294.0 718.0,260.5 726.0,227.0 734.0,219.0 742.0,209.5 754.0,202.6 766.0,199.0 774.0,197.3 782.0,193.2 790.0,191.9 798.0,192.8 806.0,193.8 814.0,198.2 822.0,204.1 830.0,202.7 838.0,203.0 846.0,204.5 854.0,206.1 862.0,207.4 871.0,207.5 886.0,202.5 902.0,199.4 910.0,192.8 917.0,191.3 923.0,194.3 931.0,198.9 942.0,203.7 949.0,200.7 959.5,199.1 966.6,196.4 974.8,192.3 982.4,184.4 991.0,184.4 1006.0,180.6 1012.0,175.5 1020.5,166.6 1030.0,156.5 1038.0,154.3 1046.0,149.5 1054.0,153.0 1062.0,154.6 1070.0,155.4 1078.0,161.4 1086.0,168.0 1094.0,175.6 1102.0,180.6 1110.0,183.0 1118.0,185.7 1126.0,186.4 1134.0,185.7 1142.0,184.5 1150.0,182.1 1158.0,177.9 1166.0,174.0 1174.0,172.8 1182.0,171.1 1190.0,171.4 1198.0,172.5 1206.0,172.5 1214.0,171.4 1222.0,170.4 1230.0,169.3 1238.0,165.7 1246.0,163.1 1254.0,158.0 1262.0,153.6 1270.0,151.2 1278.0,148.5 1286.0,147.1" fill="none" stroke="#3cb371" stroke-width="1"/>
<rect x="0" y="44" width="1627" height="2" fill="#dc143c"/>
<rect x="0" y="79" width="1627" height="2" fill="#f00"/>
<rect x="0" y="116" width="1627" height="2" fill="#ffa500"/>
<rect x="0" y="158" width="1627" height="2" fill="#00f"/>
<rect x="0" y="195" width="1627" height="2" fill="#00f"/>
</g>
<rect x="1628" y="52" width="2" height="1" fill="#000"/>
<text x="1633.6" y="56" fill="#000" stroke="#000" stroke-width="0.16" font-size="10" textLength="32.6" lengthAdjust="spacingAndGlyphs">136.945</text>
<rect x="1628" y="85" width="2" height="1" fill="#000"/>
<text x="1633.6" y="89" fill="#000" stroke="#000" stroke-width="0.16" font-size="10" textLength="32.6" lengthAdjust="spacingAndGlyphs">136.380</text>
<rect x="1628" y="118" width="2" height="1" fill="#000"/>
<text x="1633.6" y="122" fill="#000" stroke="#000" stroke-width="0.16" font-size="10" textLength="32.6" lengthAdjust="spacingAndGlyphs">135.800</text>
<rect x="1628" y="151" width="2" height="1" fill="#000"/>
<text x="1633.6" y="155" fill="#000" stroke="#000" stroke-width="0.16" font-size="10" textLength="32.6" lengthAdjust="spacingAndGlyphs">135.220</text>
<rect x="1628" y="184" width="2" height="1" fill="#000"/>
<text x="1633.6" y="188" fill="#000" stroke="#000" stroke-width="0.16" font-size="10" textLength="32.6" lengthAdjust="spacingAndGlyphs">134.650</text>
<rect x="1628" y="217" width="2" height="1" fill="#000"/>
<text x="1633.6" y="221" fill="#000" stroke="#000" stroke-width="0.16" font-size="10" textLength="32.6" lengthAdjust="spacingAndGlyphs">134.065</text>
<rect x="1628" y="250" width="2" height="1" fill="#000"/>
<text x="1633.6" y="254" fill="#000" stroke="#000" stroke-width="0.16" font-size="10" textLength="32.6" lengthAdjust="spacingAndGlyphs">133.495</text>
<rect x="1628" y="283" width="2" height="1" fill="#000"/>
<text x="1633.6" y="287" fill="#000" stroke="#000" stroke-width="0.16" font-size="10" textLength="32.6" lengthAdjust="spacingAndGlyphs">132.925</text>
<rect x="1628" y="316" width="2" height="1" fill="#000"/>
<text x="1633.6" y="320" fill="#000" stroke="#000" stroke-width="0.16" font-size="10" textLength="32.6" lengthAdjust="spacingAndGlyphs">132.355</text>
<rect x="1628" y="349" width="2" height="1" fill="#000"/>
<text x="1633.6" y="353" fill="#000" stroke="#000" stroke-width="0.16" font-size="10" textLength="32.6" lengthAdjust="spacingAndGlyphs">131.770</text>
<rect x="1628" y="382" width="2" height="1" fill="#000"/>
<text x="1633.6" y="386" fill="#000" stroke="#000" stroke-width="0.16" font-size="10" textLength="32.6" lengthAdjust="spacingAndGlyphs">131.200</text>
<rect x="1628" y="415" width="2" height="1" fill="#000"/>
<text x="1633.6" y="419" fill="#000" stroke="#000" stroke-width="0.16" font-size="10" textLength="32.6" lengthAdjust="spacingAndGlyphs">130.630</text>
<rect x="1628" y="448" width="2" height="1" fill="#000"/>
<text x="1633.6" y="452" fill="#000" stroke="#000" stroke-width="0.16" font-size="10" textLength="32.6" lengthAdjust="spacingAndGlyphs">130.060</text>
<rect x="1628" y="481" width="2" height="1" fill="#000"/>
<text x="1633.6" y="485" fill="#000" stroke="#000" stroke-width="0.16" font-size="10" textLength="32.6" lengthAdjust="spacingAndGlyphs">129.475</text>
<rect x="1628" y="514" width="2" height="1" fill="#000"/>
<text x="1633.6" y="518" fill="#000" stroke="#000" stroke-width="0.16" font-size="10" textLength="32.6" lengthAdjust="spacingAndGlyphs">128.905</text>
<rect x="1628" y="547" width="2" height="1" fill="#000"/>
<text x="1633.6" y="551" fill="#000" stroke="#000" stroke-width="0.16" font-size="10" textLength="32.6" lengthAdjust="spacingAndGlyphs">128.335</text>
<rect x="1629" y="39" width="41" height="11" fill="#dc143c"/>
<text x="1633.6" y="48" fill="#fff" stroke="#fff" stroke-width="0.16" font-size="10" textLength="32.6" lengthAdjust="spacingAndGlyphs">137.064</text>
<rect x="1629" y="74" width="41" height="11" fill="#f00"/>
<text x="1633.6" y="83" fill="#fff" stroke="#fff" stroke-width="0.16" font-size="10" textLength="32.6" lengthAdjust="spacingAndGlyphs">136.448</text>
<rect x="1629" y="104" width="41" height="11" fill="#000"/>
<text x="1633.6" y="113" fill="#fff" stroke="#fff" stroke-width="0.16" font-size="10" textLength="32.6" lengthAdjust="spacingAndGlyphs">135.948</text>
<rect x="1629" y="111" width="41" height="11" fill="#ffa500"/>
<text x="1633.6" y="120" fill="#fff" stroke="#fff" stroke-width="0.16" font-size="10" textLength="32.6" lengthAdjust="spacingAndGlyphs">135.817</text>
<rect x="1629" y="153" width="41" height="11" fill="#00f"/>
<text x="1633.6" y="162" fill="#fff" stroke="#fff" stroke-width="0.16" font-size="10" textLength="32.6" lengthAdjust="spacingAndGlyphs">135.089</text>
<rect x="1629" y="190" width="41" height="11" fill="#00f"/>
<text x="1633.6" y="199" fill="#fff" stroke="#fff" stroke-width="0.16" font-size="10" textLength="32.6" lengthAdjust="spacingAndGlyphs">134.436</text>
<text x="5.4" y="35" fill="#000" stroke="#000" stroke-width="0.16" font-size="10" textLength="53.4" lengthAdjust="spacingAndGlyphs">USDJPY-,H4</text>
<text x="65.7" y="35" fill="#000" stroke="#000" stroke-width="0.16" font-size="10" textLength="32.2" lengthAdjust="spacingAndGlyphs">135.980</text>
<text x="101.5" y="35" fill="#000" stroke="#000" stroke-width="0.16" font-size="10" textLength="32.2" lengthAdjust="spacingAndGlyphs">136.002</text>
<text x="137.6" y="35" fill="#000" stroke="#000" stroke-width="0.16" font-size="10" textLength="32.2" lengthAdjust="spacingAndGlyphs">135.948</text>
<text x="173.8" y="35" fill="#000" stroke="#000" stroke-width="0.16" font-size="10" textLength="32.2" lengthAdjust="spacingAndGlyphs">135.948</text>
<clipPath id="c2"><rect x="0" y="553" width="1627" height="135"/></clipPath>
<g clip-path="url(#c2)">
<rect x="5" y="615" width="3" height="36" fill="#0f0"/>
<rect x="13" y="610" width="3" height="41" fill="#0f0"/>
<rect x="21" y="603" width="3" height="48" fill="#0f0"/>
<rect x="29" y="598" width="3" height="53" fill="#0f0"/>
<rect x="37" y="595" width="3" height="56" fill="#0f0"/>
<rect x="45" y="593" width="3" height="58" fill="#0f0"/>
<rect x="53" y="594" width="3" height="57" fill="#0f0"/>
<rect x="61" y="596" width="3" height="55" fill="#0f0"/>
<rect x="69" y="598" width="3" height="53" fill="#0f0"/>
<rect x="77" y="600" width="3" height="51" fill="#0f0"/>
<rect x="85" y="601" width="3" height="50" fill="#0f0"/>
<rect x="93" y="603" width="3" height="48" fill="#0f0"/>
<rect x="101" y="605" width="3" height="46" fill="#0f0"/>
<rect x="109" y="606" width="3" height="45" fill="#0f0"/>
<rect x="117" y="601" width="3" height="50" fill="#0f0"/>
<rect x="125" y="599" width="3" height="52" fill="#0f0"/>
<rect x="133" y="599" width="3" height="52" fill="#0f0"/>
<rect x="141" y="601" width="3" height="50" fill="#0f0"/>
<rect x="149" y="602" width="3" height="49" fill="#0f0"/>
<rect x="157" y="602" width="3" height="49" fill="#0f0"/>
<rect x="165" y="599" width="3" height="52" fill="#0f0"/>
<rect x="173" y="594" width="3" height="57" fill="#0f0"/>
<rect x="181" y="589" width="3" height="62" fill="#0f0"/>
<rect x="189" y="583" width="3" height="68" fill="#0f0"/>
<rect x="197" y="578" width="3" height="73" fill="#0f0"/>
<rect x="205" y="574" width="3" height="77" fill="#0f0"/>
<rect x="213" y="575" width="3" height="76" fill="#0f0"/>
<rect x="221" y="575" width="3" height="76" fill="#0f0"/>
<rect x="229" y="575" width="3" height="76" fill="#0f0"/>
<rect x="237" y="574" width="3" height="77" fill="#0f0"/>
<rect x="245" y="571" width="3" height="80" fill="#0f0"/>
<rect x="253" y="567" width="3" height="84" fill="#0f0"/>
<rect x="261" y="564" width="3" height="87" fill="#0f0"/>
<rect x="269" y="562" width="3" height="89" fill="#0f0"/>
<rect x="277" y="560" width="3" height="91" fill="#0f0"/>
<rect x="285" y="562" width="3" height="89" fill="#0f0"/>
<rect x="293" y="569" width="3" height="82" fill="#0f0"/>
<rect x="301" y="573" width="3" height="78" fill="#0f0"/>
<rect x="309" y="574" width="3" height="77" fill="#0f0"/>
<rect x="317" y="574" width="3" height="77" fill="#0f0"/>
<rect x="325" y="576" width="3" height="75" fill="#0f0"/>
<rect x="333" y="579" width="3" height="72" fill="#0f0"/>
<rect x="341" y="586" width="3" height="65" fill="#0f0"/>
<rect x="349" y="590" width="3" height="61" fill="#0f0"/>
<rect x="357" y="592" width="3" height="59" fill="#0f0"/>
<rect x="365" y="593" width="3" height="58" fill="#0f0"/>
<rect x="373" y="592" width="3" height="59" fill="#0f0"/>
<rect x="381" y="591" width="3" height="60" fill="#0f0"/>
<rect x="389" y="593" width="3" height="58" fill="#0f0"/>
<rect x="397" y="596" width="3" height="55" fill="#0f0"/>
<rect x="405" y="601" width="3" height="50" fill="#0f0"/>
<rect x="413" y="605" width="3" height="46" fill="#0f0"/>
<rect x="421" y="608" width="3" height="43" fill="#0f0"/>
<rect x="429" y="610" width="3" height="41" fill="#0f0"/>
<rect x="437" y="612" width="3" height="39" fill="#0f0"/>
<rect x="445" y="614" width="3" height="37" fill="#0f0"/>
<rect x="453" y="613" width="3" height="38" fill="#0f0"/>
<rect x="461" y="611" width="3" height="40" fill="#0f0"/>
<rect x="469" y="610" width="3" height="41" fill="#0f0"/>
<rect x="477" y="611" width="3" height="40" fill="#0f0"/>
<rect x="485" y="613" width="3" height="38" fill="#0f0"/>
<rect x="493" y="618" width="3" height="33" fill="#0f0"/>
<rect x="501" y="621" width="3" height="30" fill="#0f0"/>
<rect x="509" y="630" width="3" height="21" fill="#0f0"/>
<rect x="517" y="634" width="3" height="17" fill="#0f0"/>
<rect x="525" y="637" width="3" height="14" fill="#0f0"/>
<rect x="533" y="639" width="3" height="12" fill="#0f0"/>
<rect x="541" y="650" width="3" height="1" fill="#0f0"/>
<rect x="549" y="651" width="3" height="16" fill="#0f0"/>
<rect x="557" y="651" width="3" height="26" fill="#0f0"/>
<rect x="565" y="651" width="3" height="31" fill="#0f0"/>
<rect x="573" y="651" width="3" height="24" fill="#0f0"/>
<rect x="581" y="651" width="3" height="16" fill="#0f0"/>
<rect x="589" y="651" width="3" height="8" fill="#0f0"/>
<rect x="597" y="649" width="3" height="2" fill="#0f0"/>
<rect x="605" y="643" width="3" height="8" fill="#0f0"/>
<rect x="613" y="636" width="3" height="15" fill="#0f0"/>
<rect x="621" y="633" width="3" height="18" fill="#0f0"/>
<rect x="629" y="633" width="3" height="18" fill="#0f0"/>
<rect x="637" y="631" width="3" height="20" fill="#0f0"/>
<rect x="645" y="629" width="3" height="22" fill="#0f0"/>
<rect x="653" y="628" width="3" height="23" fill="#0f0"/>
<rect x="661" y="627" width="3" height="24" fill="#0f0"/>
<rect x="669" y="627" width="3" height="24" fill="#0f0"/>
<rect x="677" y="626" width="3" height="25" fill="#0f0"/>
<rect x="685" y="619" width="3" height="32" fill="#0f0"/>
<rect x="693" y="614" width="3" height="37" fill="#0f0"/>
<rect x="701" y="607" width="3" height="44" fill="#0f0"/>
<rect x="709" y="605" width="3" height="46" fill="#0f0"/>
<rect x="717" y="604" width="3" height="47" fill="#0f0"/>
<rect x="725" y="604" width="3" height="47" fill="#0f0"/>
<rect x="733" y="606" width="3" height="45" fill="#0f0"/>
<rect x="741" y="608" width="3" height="43" fill="#0f0"/>
<rect x="749" y="609" width="3" height="42" fill="#0f0"/>
<rect x="757" y="611" width="3" height="40" fill="#0f0"/>
<rect x="765" y="618" width="3" height="33" fill="#0f0"/>
<rect x="773" y="623" width="3" height="28" fill="#0f0"/>
<rect x="781" y="626" width="3" height="25" fill="#0f0"/>
<rect x="789" y="635" width="3" height="16" fill="#0f0"/>
<rect x="797" y="640" width="3" height="11" fill="#0f0"/>
<rect x="805" y="645" width="3" height="6" fill="#0f0"/>
<rect x="813" y="650" width="3" height="1" fill="#0f0"/>
<rect x="821" y="651" width="3" height="5" fill="#0f0"/>
<rect x="829" y="651" width="3" height="4" fill="#0f0"/>
<rect x="837" y="651" width="3" height="4" fill="#0f0"/>
<rect x="845" y="651" width="3" height="3" fill="#0f0"/>
<rect x="853" y="651" width="3" height="4" fill="#0f0"/>
<rect x="861" y="651" width="3" height="6" fill="#0f0"/>
<rect x="869" y="651" width="3" height="6" fill="#0f0"/>
<rect x="877" y="651" width="3" height="2" fill="#0f0"/>
<rect x="885" y="651" width="3" height="2" fill="#0f0"/>
<rect x="893" y="650" width="3" height="1" fill="#0f0"/>
<rect x="901" y="649" width="3" height="2" fill="#0f0"/>
<rect x="909" y="649" width="3" height="2" fill="#0f0"/>
<rect x="917" y="646" width="3" height="5" fill="#0f0"/>
<rect x="925" y="641" width="3" height="10" fill="#0f0"/>
<rect x="933" y="637" width="3" height="14" fill="#0f0"/>
<rect x="941" y="634" width="3" height="17" fill="#0f0"/>
<rect x="949" y="633" width="3" height="18" fill="#0f0"/>
<rect x="957" y="632" width="3" height="19" fill="#0f0"/>
<rect x="965" y="632" width="3" height="19" fill="#0f0"/>
<rect x="973" y="629" width="3" height="22" fill="#0f0"/>
<rect x="981" y="627" width="3" height="24" fill="#0f0"/>
<rect x="989" y="625" width="3" height="26" fill="#0f0"/>
<rect x="997" y="624" width="3" height="27" fill="#0f0"/>
<rect x="1005" y="623" width="3" height="28" fill="#0f0"/>
<rect x="1013" y="625" width="3" height="26" fill="#0f0"/>
<rect x="1021" y="628" width="3" height="23" fill="#0f0"/>
<rect x="1029" y="632" width="3" height="19" fill="#0f0"/>
<rect x="1037" y="637" width="3" height="14" fill="#0f0"/>
<rect x="1045" y="640" width="3" height="11" fill="#0f0"/>
<rect x="1053" y="646" width="3" height="5" fill="#0f0"/>
<rect x="1061" y="651" width="3" height="1" fill="#0f0"/>
<rect x="1069" y="651" width="3" height="4" fill="#0f0"/>
<rect x="1077" y="651" width="3" height="8" fill="#0f0"/>
<rect x="1085" y="651" width="3" height="10" fill="#0f0"/>
<rect x="1093" y="651" width="3" height="13" fill="#0f0"/>
<rect x="1101" y="651" width="3" height="14" fill="#0f0"/>
<rect x="1109" y="651" width="3" height="13" fill="#0f0"/>
<rect x="1117" y="651" width="3" height="13" fill="#0f0"/>
<rect x="1125" y="651" width="3" height="10" fill="#0f0"/>
<rect x="1133" y="651" width="3" height="8" fill="#0f0"/>
<rect x="1141" y="651" width="3" height="6" fill="#0f0"/>
<rect x="1149" y="651" width="3" height="1" fill="#0f0"/>
<rect x="1157" y="649" width="3" height="2" fill="#0f0"/>
<rect x="1165" y="647" width="3" height="4" fill="#0f0"/>
<rect x="1173" y="648" width="3" height="3" fill="#0f0"/>
<rect x="1181" y="648" width="3" height="3" fill="#0f0"/>
<rect x="1189" y="649" width="3" height="2" fill="#0f0"/>
<rect x="1197" y="650" width="3" height="1" fill="#0f0"/>
<rect x="1205" y="651" width="3" height="3" fill="#0f0"/>
<rect x="1213" y="651" width="3" height="6" fill="#0f0"/>
<rect x="1221" y="651" width="3" height="5" fill="#0f0"/>
<rect x="1229" y="651" width="3" height="3" fill="#0f0"/>
<rect x="1237" y="650" width="3" height="1" fill="#0f0"/>
<rect x="1245" y="650" width="3" height="1" fill="#0f0"/>
<rect x="1253" y="647" width="3" height="4" fill="#0f0"/>
<rect x="1261" y="648" width="3" height="3" fill="#0f0"/>
<rect x="1269" y="647" width="3" height="4" fill="#0f0"/>
<rect x="1277" y="646" width="3" height="5" fill="#0f0"/>
<rect x="1285" y="645" width="3" height="6" fill="#0f0"/>
<polyline points="-2.0,638.0 6.0,634.8 14.0,628.9 22.0,625.1 30.0,619.7 38.0,614.7 46.0,609.7 54.0,606.4 62.0,603.3 70.0,600.2 78.0,599.3 86.0,598.0 94.0,597.7 102.0,598.0 110.0,600.5 118.0,600.8 126.0,601.7 134.0,601.8 142.0,601.8 150.0,601.8 158.0,601.8 166.0,601.8 174.0,600.5 182.0,600.0 190.0,596.3 198.0,594.6 206.0,591.3 214.0,588.3 222.0,585.1 230.0,582.1 238.0,580.4 246.0,577.4 254.0,575.4 262.0,573.4 270.0,571.6 278.0,569.4 286.0,568.4 294.0,567.4 302.0,567.1 310.0,567.1 318.0,567.4 326.0,568.2 334.0,570.4 342.0,572.6 350.0,576.6 358.0,579.6 366.0,582.4 374.0,584.3 382.0,586.3 390.0,588.3 398.0,590.5 406.0,593.5 414.0,595.5 422.0,597.2 430.0,599.3 438.0,601.3 446.0,604.4 454.0,606.4 462.0,608.5 470.0,609.7 478.0,610.5 486.0,611.4 494.0,611.9 502.0,614.2 510.0,616.4 518.0,618.4 526.0,620.2 534.0,624.4 542.0,628.7 550.0,634.0 558.0,640.6 566.0,647.3 574.0,654.4 582.0,658.5 590.0,661.6 598.0,662.7 606.0,662.9 614.0,661.6 622.0,657.4 630.0,653.2 638.0,648.2 646.0,643.2 654.0,639.0 662.0,634.8 670.0,632.6 678.0,630.6 686.0,628.9 694.0,626.9 702.0,623.6 710.0,620.6 718.0,618.6 726.0,615.6 734.0,613.5 742.0,610.2 750.0,608.0 758.0,607.7 766.0,608.0 774.0,610.2 782.0,612.2 790.0,615.6 798.0,619.7 806.0,624.8 814.0,629.5 822.0,634.0 830.0,639.0 838.0,643.2 846.0,646.0 854.0,649.0 862.0,651.2 870.0,653.2 878.0,653.5 886.0,653.5 894.0,653.5 902.0,653.5 910.0,652.7 918.0,652.4 926.0,650.3 934.0,648.2 942.0,646.2 950.0,644.0 958.0,641.0 966.0,639.0 974.0,637.3 982.0,635.6 990.0,632.6 998.0,630.3 1006.0,629.3 1014.0,628.1 1022.0,627.4 1030.0,627.3 1038.0,628.1 1046.0,628.9 1054.0,630.9 1062.0,633.5 1070.0,636.8 1078.0,641.0 1086.0,645.5 1094.0,649.5 1102.0,653.2 1110.0,656.5 1118.0,658.5 1126.0,660.7 1134.0,660.7 1142.0,660.7 1150.0,660.7 1158.0,659.5 1166.0,657.4 1174.0,655.4 1182.0,653.2 1190.0,652.4 1198.0,651.5 1206.0,650.7 1214.0,649.8 1222.0,651.0 1230.0,651.0 1238.0,651.0 1246.0,651.8 1254.0,651.8 1262.0,651.8 1270.0,651.8 1278.0,650.7 1286.0,649.8" fill="none" stroke="#f00" stroke-width="2"/>
<text x="-5.7" y="565" fill="#000" stroke="#000" stroke-width="0.16" font-size="10" textLength="64.8" lengthAdjust="spacingAndGlyphs">MACD(12,26,9)</text>
<text x="63.3" y="565" fill="#000" stroke="#000" stroke-width="0.16" font-size="10" textLength="27.0" lengthAdjust="spacingAndGlyphs">0.0772</text>
<text x="94.4" y="565" fill="#000" stroke="#000" stroke-width="0.16" font-size="10" textLength="27.4" lengthAdjust="spacingAndGlyphs">0.0300</text>
</g>
<rect x="1628" y="553" width="2" height="1" fill="#000"/>
<text x="1632" y="563" fill="#000" stroke="#000" stroke-width="0.16" font-size="10" textLength="27.6" lengthAdjust="spacingAndGlyphs">1.2054</text>
<rect x="1628" y="651" width="2" height="1" fill="#000"/>
<text x="1632" y="655" fill="#000" stroke="#000" stroke-width="0.16" font-size="10" textLength="17.6" lengthAdjust="spacingAndGlyphs">0.00</text>
<rect x="1628" y="687" width="2" height="1" fill="#000"/>
<text x="1632" y="685" fill="#000" stroke="#000" stroke-width="0.16" font-size="10" textLength="31.0" lengthAdjust="spacingAndGlyphs">-0.4458</text>
<clipPath id="c3"><rect x="0" y="691" width="1627" height="120"/></clipPath>
<g clip-path="url(#c3)">
<line x1="3" y1="715.5" x2="1627" y2="715.5" stroke="#000" stroke-width="1" stroke-dasharray="3 3"/>
<line x1="3" y1="751.5" x2="1627" y2="751.5" stroke="#000" stroke-width="1" stroke-dasharray="3 3"/>
<line x1="3" y1="793.5" x2="1627" y2="793.5" stroke="#000" stroke-width="1" stroke-dasharray="3 3"/>
<polyline points="-2.0,727.0 6.0,723.1 14.0,721.5 22.0,717.5 30.0,716.6 38.0,718.5 46.0,719.2 54.0,725.5 62.0,731.0 66.0,730.8 73.0,729.0 88.0,729.0 93.0,731.0 101.5,731.0 110.0,726.5 118.0,718.0 126.0,721.5 134.0,724.5 142.0,731.4 150.0,727.5 158.0,731.4 166.0,721.1 174.0,718.6 182.0,716.6 190.0,713.3 198.0,712.7 206.0,711.7 214.0,720.9 222.0,720.9 230.0,719.0 238.0,717.0 246.0,713.7 254.0,711.3 262.0,710.3 270.0,709.1 278.0,708.9 286.0,721.5 294.0,731.8 302.0,730.4 310.0,727.5 318.0,723.9 326.0,723.9 334.0,730.4 342.0,739.9 350.0,736.3 358.0,734.4 366.0,732.4 374.0,727.5 382.0,727.5 390.0,733.8 398.0,735.3 406.0,742.2 414.0,739.9 422.0,742.2 430.0,737.7 438.0,739.9 446.0,739.9 454.0,734.9 462.0,731.0 470.0,731.0 478.0,734.4 486.0,742.2 494.0,746.0 502.0,746.0 510.0,759.4 518.0,754.5 526.0,750.7 534.0,750.7 542.0,767.9 550.0,776.7 558.0,770.8 566.0,765.9 574.0,747.2 582.0,747.2 590.0,743.6 598.0,739.9 606.0,740.9 614.0,738.5 622.0,744.6 630.0,746.0 638.0,743.2 646.0,742.8 654.0,742.8 662.0,742.0 670.0,742.8 678.0,740.9 686.0,731.4 694.0,731.0 702.0,727.5 710.0,733.4 718.0,734.9 726.0,734.9 734.0,737.7 742.0,737.7 750.0,736.7 758.0,741.6 766.0,751.7 774.0,751.7 782.0,748.7 790.0,760.0 798.0,758.0 806.0,758.4 814.0,760.4 822.0,762.1 830.0,750.7 838.0,750.7 846.0,750.7 854.0,754.1 862.0,757.0 870.0,754.1 878.0,747.2 886.0,748.7 894.0,747.2 902.0,747.2 910.0,748.7 918.0,742.2 926.0,737.3 934.0,735.7 942.0,735.9 950.0,738.7 958.0,737.9 966.0,740.9 974.0,734.4 982.0,733.8 990.0,732.4 998.0,731.8 1006.0,731.8 1014.0,743.6 1022.0,742.8 1030.0,755.6 1038.0,755.6 1046.0,753.7 1054.0,764.9 1062.0,761.4 1070.0,761.4 1078.0,764.9 1086.0,761.0 1094.0,764.9 1102.0,761.9 1110.0,755.0 1118.0,756.0 1126.0,749.1 1134.0,748.7 1142.0,745.2 1150.0,741.3 1158.0,741.3 1166.0,743.8 1174.0,750.7 1182.0,749.7 1190.0,755.4 1198.0,758.0 1206.0,758.0 1214.0,761.0 1222.0,750.1 1230.0,746.2 1238.0,744.8 1246.0,748.7 1254.0,741.8 1262.0,751.1 1270.0,746.2 1278.0,746.2 1286.0,746.2" fill="none" stroke="#1e90ff" stroke-width="2"/>
<text x="-6" y="703" fill="#000" stroke="#000" stroke-width="0.16" font-size="10" textLength="31.3" lengthAdjust="spacingAndGlyphs">RSI(14)</text>
<text x="29.3" y="703" fill="#000" stroke="#000" stroke-width="0.16" font-size="10" textLength="32.2" lengthAdjust="spacingAndGlyphs">53.8449</text>
</g>
<rect x="1628" y="692" width="2" height="1" fill="#000"/>
<text x="1632" y="701" fill="#000" stroke="#000" stroke-width="0.16" font-size="10" textLength="15.0" lengthAdjust="spacingAndGlyphs">100</text>
<text x="1630.4" y="719" fill="#000" stroke="#000" stroke-width="0.16" font-size="10" textLength="10.0" lengthAdjust="spacingAndGlyphs">80</text>
<text x="1630.4" y="755" fill="#000" stroke="#000" stroke-width="0.16" font-size="10" textLength="10.0" lengthAdjust="spacingAndGlyphs">50</text>
<text x="1630.4" y="797" fill="#000" stroke="#000" stroke-width="0.16" font-size="10" textLength="10.0" lengthAdjust="spacingAndGlyphs">15</text>
<text x="1631.2" y="808" fill="#000" stroke="#000" stroke-width="0.16" font-size="10" textLength="5.0" lengthAdjust="spacingAndGlyphs">0</text>
<rect x="1628" y="810" width="2" height="1" fill="#000"/>
<text x="-10.5" y="824" fill="#000" stroke="#000" stroke-width="0.16" font-size="10" textLength="56.0" lengthAdjust="spacingAndGlyphs">31 May 2022</text>
<rect x="54" y="812" width="1" height="3" fill="#000"/>
<text x="53.5" y="824" fill="#000" stroke="#000" stroke-width="0.16" font-size="10" textLength="49.3" lengthAdjust="spacingAndGlyphs">2 Jun 04:00</text>
<rect x="118" y="812" width="1" height="3" fill="#000"/>
<text x="117.5" y="824" fill="#000" stroke="#000" stroke-width="0.16" font-size="10" textLength="49.3" lengthAdjust="spacingAndGlyphs">3 Jun 12:00</text>
<rect x="182" y="812" width="1" height="3" fill="#000"/>
<text x="181.5" y="824" fill="#000" stroke="#000" stroke-width="0.16" font-size="10" textLength="49.3" lengthAdjust="spacingAndGlyphs">6 Jun 20:00</text>
<rect x="246" y="812" width="1" height="3" fill="#000"/>
<text x="245.5" y="824" fill="#000" stroke="#000" stroke-width="0.16" font-size="10" textLength="49.3" lengthAdjust="spacingAndGlyphs">8 Jun 04:00</text>
<rect x="310" y="812" width="1" height="3" fill="#000"/>
<text x="309.5" y="824" fill="#000" stroke="#000" stroke-width="0.16" font-size="10" textLength="49.3" lengthAdjust="spacingAndGlyphs">9 Jun 12:00</text>
<rect x="374" y="812" width="1" height="3" fill="#000"/>
<text x="373.5" y="824" fill="#000" stroke="#000" stroke-width="0.16" font-size="10" textLength="54.3" lengthAdjust="spacingAndGlyphs">12 Jun 23:00</text>
<rect x="438" y="812" width="1" height="3" fill="#000"/>
<text x="437.5" y="824" fill="#000" stroke="#000" stroke-width="0.16" font-size="10" textLength="54.3" lengthAdjust="spacingAndGlyphs">14 Jun 04:00</text>
<rect x="502" y="812" width="1" height="3" fill="#000"/>
<text x="501.5" y="824" fill="#000" stroke="#000" stroke-width="0.16" font-size="10" textLength="54.3" lengthAdjust="spacingAndGlyphs">15 Jun 12:00</text>
<rect x="566" y="812" width="1" height="3" fill="#000"/>
<text x="565.5" y="824" fill="#000" stroke="#000" stroke-width="0.16" font-size="10" textLength="54.3" lengthAdjust="spacingAndGlyphs">16 Jun 20:00</text>
<rect x="630" y="812" width="1" height="3" fill="#000"/>
<text x="629.5" y="824" fill="#000" stroke="#000" stroke-width="0.16" font-size="10" textLength="54.3" lengthAdjust="spacingAndGlyphs">20 Jun 04:00</text>
<rect x="694" y="812" width="1" height="3" fill="#000"/>
<text x="693.5" y="824" fill="#000" stroke="#000" stroke-width="0.16" font-size="10" textLength="54.3" lengthAdjust="spacingAndGlyphs">21 Jun 12:00</text>
<rect x="758" y="812" width="1" height="3" fill="#000"/>
<text x="757.5" y="824" fill="#000" stroke="#000" stroke-width="0.16" font-size="10" textLength="54.3" lengthAdjust="spacingAndGlyphs">22 Jun 20:00</text>
<rect x="822" y="812" width="1" height="3" fill="#000"/>
<text x="821.5" y="824" fill="#000" stroke="#000" stroke-width="0.16" font-size="10" textLength="54.3" lengthAdjust="spacingAndGlyphs">24 Jun 04:00</text>
<rect x="886" y="812" width="1" height="3" fill="#000"/>
<text x="885.5" y="824" fill="#000" stroke="#000" stroke-width="0.16" font-size="10" textLength="54.3" lengthAdjust="spacingAndGlyphs">27 Jun 12:00</text>
<rect x="950" y="812" width="1" height="3" fill="#000"/>
<text x="949.5" y="824" fill="#000" stroke="#000" stroke-width="0.16" font-size="10" textLength="54.3" lengthAdjust="spacingAndGlyphs">28 Jun 20:00</text>
<rect x="1014" y="812" width="1" height="3" fill="#000"/>
<text x="1013.5" y="824" fill="#000" stroke="#000" stroke-width="0.16" font-size="10" textLength="54.3" lengthAdjust="spacingAndGlyphs">30 Jun 04:00</text>
<rect x="1078" y="812" width="1" height="3" fill="#000"/>
<text x="1077.5" y="824" fill="#000" stroke="#000" stroke-width="0.16" font-size="10" textLength="46.3" lengthAdjust="spacingAndGlyphs">1 Jul 12:00</text>
<rect x="1142" y="812" width="1" height="3" fill="#000"/>
<text x="1141.5" y="824" fill="#000" stroke="#000" stroke-width="0.16" font-size="10" textLength="46.3" lengthAdjust="spacingAndGlyphs">4 Jul 20:00</text>
<rect x="1206" y="812" width="1" height="3" fill="#000"/>
<text x="1205.5" y="824" fill="#000" stroke="#000" stroke-width="0.16" font-size="10" textLength="46.3" lengthAdjust="spacingAndGlyphs">6 Jul 04:00</text>
<rect x="1270" y="812" width="1" height="3" fill="#000"/>
<text x="1269.5" y="824" fill="#000" stroke="#000" stroke-width="0.16" font-size="10" textLength="46.3" lengthAdjust="spacingAndGlyphs">7 Jul 12:00</text>
</svg>
</body></html>
